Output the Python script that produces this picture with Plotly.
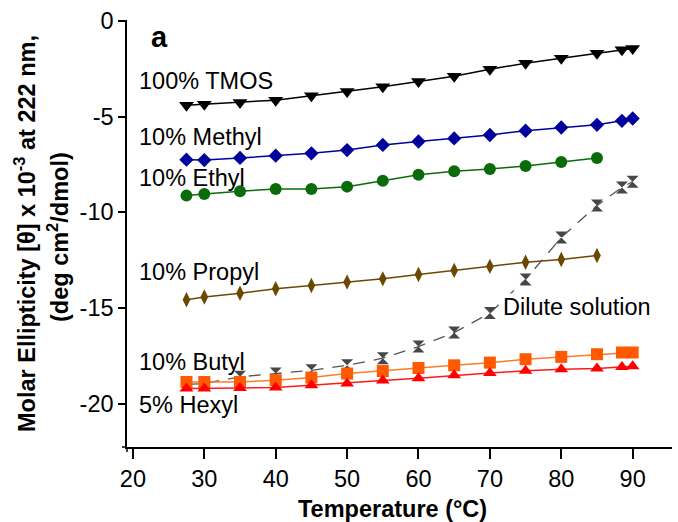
import plotly.graph_objects as go

# ---------------- data ----------------
temps_full = [27.5, 30, 35, 40, 45, 50, 55, 60, 65, 70, 75, 80, 85, 88.5, 90]
temps_short = [27.5, 30, 35, 40, 45, 50, 55, 60, 65, 70, 75, 80, 85]

tmos = [-4.40, -4.35, -4.26, -4.14, -3.91, -3.69, -3.44, -3.17, -2.89, -2.52, -2.21, -1.95, -1.69, -1.51, -1.44]
methyl = [-7.25, -7.27, -7.16, -7.04, -6.92, -6.75, -6.48, -6.30, -6.14, -5.96, -5.74, -5.57, -5.43, -5.22, -5.10]
ethyl = [-9.13, -9.04, -8.90, -8.78, -8.78, -8.66, -8.35, -8.04, -7.86, -7.74, -7.58, -7.37, -7.16]
propyl = [-14.57, -14.43, -14.23, -14.00, -13.83, -13.65, -13.48, -13.25, -13.04, -12.83, -12.61, -12.47, -12.26]
butyl = [-18.87, -18.87, -18.87, -18.78, -18.64, -18.43, -18.30, -18.14, -18.00, -17.86, -17.68, -17.56, -17.42, -17.33, -17.33]
hexyl = [-19.21, -19.21, -19.18, -19.16, -19.04, -18.95, -18.80, -18.67, -18.52, -18.40, -18.29, -18.21, -18.17, -18.09, -18.05]
dilute = [-19.00, -18.95, -18.60, -18.43, -18.26, -18.00, -17.63, -17.02, -16.29, -15.27, -13.51, -11.32, -9.65, -8.70, -8.40]

x_ticks = [20, 30, 40, 50, 60, 70, 80, 90]
y_ticks = [0, -5, -10, -15, -20]

series_labels = ["100% TMOS", "10% Methyl", "10% Ethyl", "10% Propyl", "10% Butyl", "5% Hexyl", "Dilute solution"]

FONT = "Liberation Sans, Arial, sans-serif"
FS = 23.5

fig = go.Figure()

def add(x, y, color, symbol, size, linecolor=None, dash=None, lw=1.5):
    fig.add_trace(go.Scatter(
        x=x, y=y, mode="lines+markers",
        line=dict(color=linecolor or color, width=lw, dash=dash),
        marker=dict(color=color, symbol=symbol, size=size, line=dict(width=0)),
        showlegend=False, cliponaxis=False,
    ))

add(temps_full, tmos, "#000000", "triangle-down", 13)
add(temps_full, methyl, "#00009C", "diamond", 11)
add(temps_short, ethyl, "#0A6B0A", "circle", 12)
add(temps_short, propyl, "#6B4800", "diamond-tall", 11)
add(temps_full, dilute, "#474747", "hourglass", 12, linecolor="#555555", dash="12px,9px", lw=1.3)
add(temps_full, butyl, "#FF5A00", "square", 12, linecolor="#FF7A2A")
add(temps_full, hexyl, "#FF0000", "triangle-up", 12, linecolor="#FF1A1A")

L, R, T, B = 127, 6, 20, 75
W, H = 678, 522
pw, ph = W - L - R, H - T - B

def px(x):
    return (x - L) / pw

def py(y):
    return (H - B - y) / ph

ann = []
def label(text, xp, yp, size=FS, xanchor="left", angle=0, bg=None, bold=False):
    ann.append(dict(
        text=f"<b>{text}</b>" if bold else text, x=px(xp), y=py(yp), xref="paper", yref="paper",
        xanchor=xanchor, yanchor="middle", showarrow=False, textangle=angle,
        font=dict(family=FONT, size=size, color="#000"),
        bgcolor=bg, borderpad=0,
    ))

label("a", 150, 36.6, size=29, bold=True)
label(series_labels[0], 138, 81)
label(series_labels[1], 138, 136.5)
label(series_labels[2], 138, 178)
label(series_labels[3], 138, 272)
label(series_labels[4], 138, 361.5)
label(series_labels[5], 137.5, 405)
label(series_labels[6], 501.7, 307.3, bg="white")
label("Temperature (°C)", 392.6, 508.7, xanchor="center", bold=True)
label("Molar Ellipticity [θ] x 10<sup>-3</sup> at 222 nm,", 25, 234, xanchor="center", angle=-90, bold=True)
label("(deg cm<sup>2</sup>/dmol)", 58, 237, xanchor="center", angle=-90, bold=True)

# small axis overshoot at the origin corner, as in the reference
shapes = [
    dict(type="line", xref="paper", yref="paper", x0=0, x1=0, y0=0, y1=py(452),
         line=dict(color="#000", width=1.5)),
    dict(type="line", xref="paper", yref="paper", x0=px(122), x1=0, y0=0, y1=0,
         line=dict(color="#000", width=1.5)),
]

fig.update_layout(
    width=W, height=H,
    margin=dict(l=L, r=R, t=T, b=B),
    paper_bgcolor="white", plot_bgcolor="white",
    font=dict(family=FONT, size=FS, color="#000"),
    annotations=ann,
    shapes=shapes,
    xaxis=dict(
        range=[19.17, 95.51], tickvals=x_ticks, ticktext=[str(v) for v in x_ticks],
        showline=True, linecolor="#000", linewidth=1.5,
        ticks="outside", ticklen=10, tickwidth=1.5, tickcolor="#000",
        showgrid=False, zeroline=False,
        tickfont=dict(family=FONT, size=FS, color="#000"),
    ),
    yaxis=dict(
        range=[-22.27, 0.05], tickvals=y_ticks, ticktext=[str(v) for v in y_ticks],
        showline=True, linecolor="#000", linewidth=1.5,
        ticks="outside", ticklen=7, tickwidth=1.5, tickcolor="#000",
        showgrid=False, zeroline=False,
        tickfont=dict(family=FONT, size=FS, color="#000"),
    ),
)

fig.write_html("out.html")
